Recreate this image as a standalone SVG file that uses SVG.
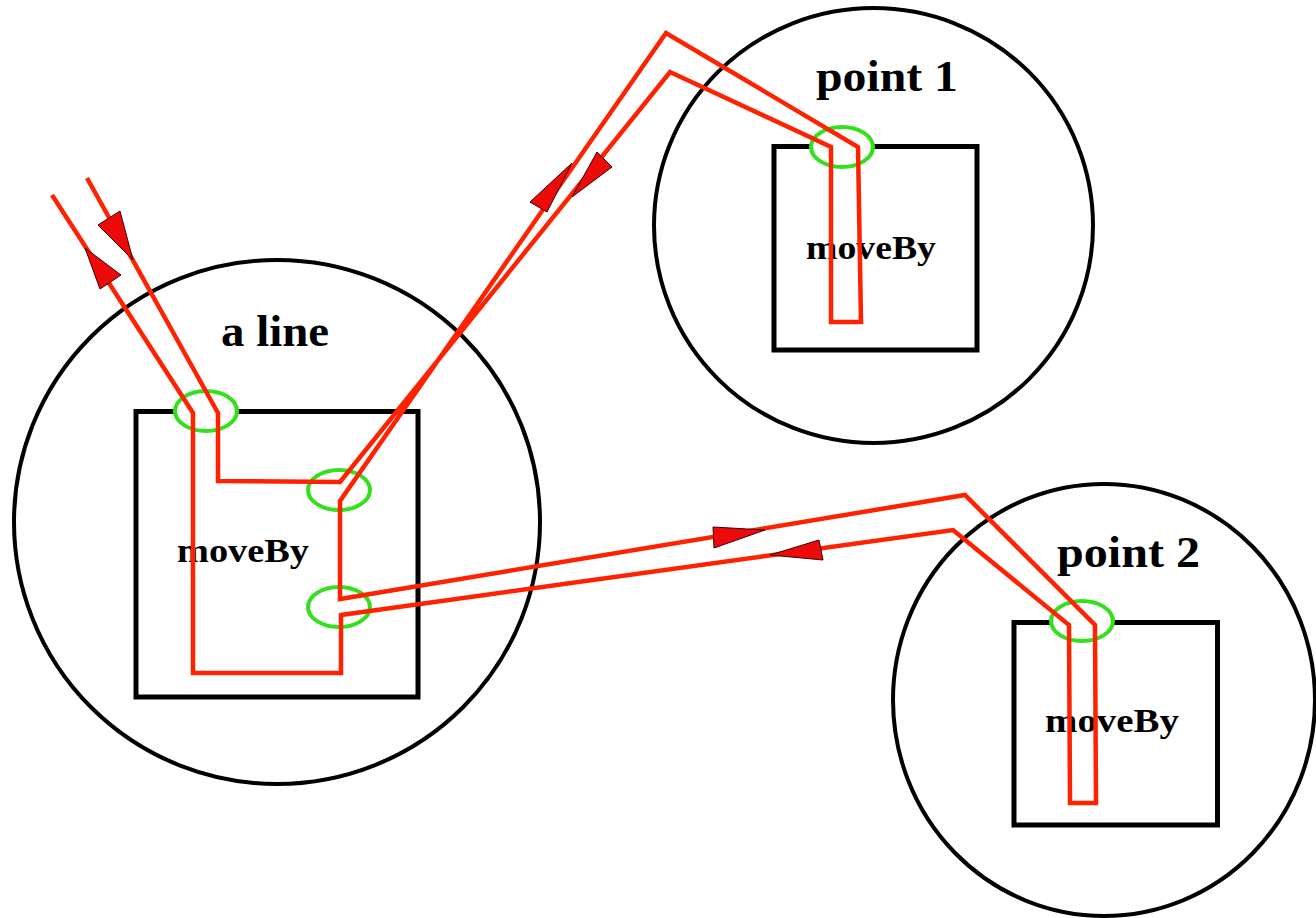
<svg xmlns="http://www.w3.org/2000/svg" width="1316" height="918" viewBox="0 0 1316 918">
  <defs>
    <style>
      .scope { fill: none; stroke: #000; stroke-width: 4; }
      .method { fill: none; stroke: #000; stroke-width: 5; }
      .port { fill: #fff; stroke: #33e01c; stroke-width: 4; }
      .title { font-family: "Liberation Serif", "Times New Roman", serif; font-weight: bold; font-size: 45px; fill: #000; }
      .mname { font-family: "Liberation Serif", "Times New Roman", serif; font-weight: bold; font-size: 34px; fill: #000; }
      .flow { fill: none; stroke: #ff2200; stroke-width: 4.5; stroke-linejoin: miter; }
      .head { fill: #ee0a0a; stroke: #3a0000; stroke-width: 1; stroke-linejoin: miter; }
    </style>
  </defs>
  <rect width="1316" height="918" fill="#fff"/>

  <!-- object: a line -->
  <g id="node-a-line">
    <ellipse class="scope" cx="277" cy="522" rx="263" ry="262"/>
    <rect class="method" x="136" y="411.5" width="282" height="285.5"/>
    <text class="title" x="221" y="346" textLength="108" lengthAdjust="spacingAndGlyphs">a line</text>
    <text class="mname" x="177" y="562" textLength="132" lengthAdjust="spacingAndGlyphs">moveBy</text>
    <ellipse class="port" cx="206" cy="411" rx="31" ry="20"/>
    <ellipse class="port" cx="339" cy="490" rx="31" ry="20"/>
    <ellipse class="port" cx="339" cy="607" rx="31" ry="20"/>
  </g>

  <!-- object: point 1 -->
  <g id="node-point-1">
    <ellipse class="scope" cx="873.5" cy="225.5" rx="219.5" ry="217.5"/>
    <rect class="method" x="774" y="146.5" width="203" height="203.5"/>
    <text class="title" x="816" y="91" textLength="142" lengthAdjust="spacingAndGlyphs">point 1</text>
    <text class="mname" x="806" y="259" textLength="130" lengthAdjust="spacingAndGlyphs">moveBy</text>
    <ellipse class="port" cx="842" cy="147" rx="31" ry="20"/>
  </g>

  <!-- object: point 2 -->
  <g id="node-point-2">
    <ellipse class="scope" cx="1104" cy="700" rx="211" ry="216"/>
    <rect class="method" x="1014" y="622.5" width="203.5" height="202.5"/>
    <text class="title" x="1057" y="567" textLength="143" lengthAdjust="spacingAndGlyphs">point 2</text>
    <text class="mname" x="1045" y="732" textLength="134" lengthAdjust="spacingAndGlyphs">moveBy</text>
    <ellipse class="port" cx="1082" cy="621" rx="31" ry="20"/>
  </g>

  <!-- message flow: call enters a line, forwards to point 1 and point 2, returns -->
  <g id="connectors">
    <polyline class="flow" points="52,195 193,413 193,673 341,673 341,615 953,530 1069,625 1070,803 1096,803 1095,625 965,495 340,599 340,501 666,33 858,147 861,322 831,322 831,147 670,72 340,482 218,481 218,413 87,178"/>
    <polygon class="head" points="85,248 100,289 121,275"/>
    <polygon class="head" points="133,260 98,225 120,211"/>
    <polygon class="head" points="572,163 530,202 547,212"/>
    <polygon class="head" points="572,197 597,152 612,167"/>
    <polygon class="head" points="765,530 713,527 714,548"/>
    <polygon class="head" points="770,555 819,540 823,560"/>
  </g>
</svg>
